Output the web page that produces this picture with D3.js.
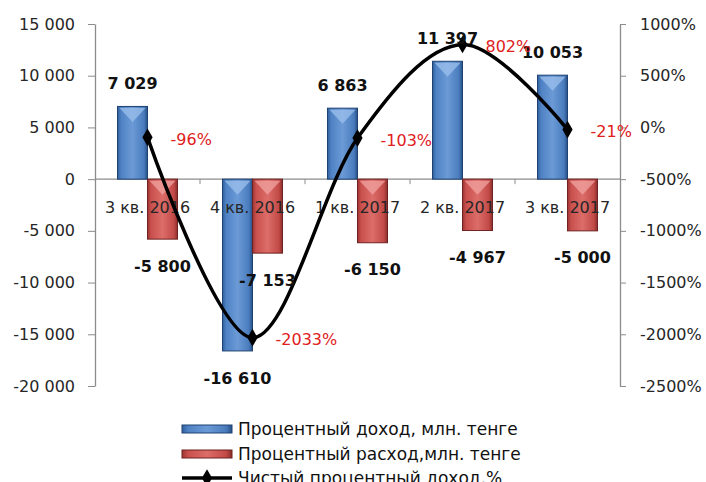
<!DOCTYPE html>
<html>
<head>
<meta charset="utf-8">
<script src="https://cdn.jsdelivr.net/npm/d3@7"></script>
<style>
	body { margin: 0; background: #fff; }
	text { font-family: "DejaVu Sans", sans-serif; }
</style>
</head>
<body>
<svg id="chart" width="706" height="482"></svg>
<script>
var categories = ['3 кв. 2016', '4 кв. 2016', '1 кв. 2017', '2 кв. 2017', '3 кв. 2017'];
var income = [7029, -16610, 6863, 11397, 10053];
var expense = [-5800, -7153, -6150, -4967, -5000];
var netPct = [-96, -2033, -103, 802, -21];
var leftTicks = [15000, 10000, 5000, 0, -5000, -10000, -15000, -20000];
var rightTicks = [1000, 500, 0, -500, -1000, -1500, -2000, -2500];
var seriesNames = ['Процентный доход, млн. тенге', 'Процентный расход,млн. тенге', 'Чистый процентный доход,%'];

var svg = d3.select('#chart');
var plotLeft = 95, plotRight = 620, plotTop = 24, plotBottom = 386;

var locale = d3.formatLocale({decimal: ',', thousands: ' ', grouping: [3], currency: ['', ''], minus: '-'});
var fmt = locale.format(',d');

var x = d3.scaleBand().domain(categories).range([plotLeft, plotRight]).paddingInner(0.4286).paddingOuter(0.2143);
var xs = d3.scaleBand().domain([0, 1]).range([0, x.bandwidth()]);
var y = d3.scaleLinear().domain([-20000, 15000]).range([plotBottom, plotTop]);
var y2 = d3.scaleLinear().domain([-2500, 1000]).range([plotBottom, plotTop]);

// gradients for the bevelled bars
var defs = svg.append('defs');
function grad(id, stops) {
	var g = defs.append('linearGradient').attr('id', id).attr('x1', '0').attr('x2', '1').attr('y1', '0').attr('y2', '0');
	stops.forEach(function(s) {
		g.append('stop').attr('offset', s[0]).attr('stop-color', s[1]);
	});
}
grad('blueGrad', [[0, '#2f5f9c'], [0.12, '#4f82c4'], [0.5, '#6b9ad6'], [0.88, '#4a7cbd'], [1, '#264f85']]);
grad('redGrad', [[0, '#9a3432'], [0.12, '#c9504d'], [0.5, '#dc6d69'], [0.88, '#c24a47'], [1, '#8a2d2b']]);

// left axis
var yAxis = svg.append('g')
	.attr('transform', 'translate(' + plotLeft + ',0)')
	.call(d3.axisLeft(y).tickValues(leftTicks).tickFormat(fmt).tickSize(7).tickSizeOuter(0).tickPadding(13));
yAxis.select('.domain').attr('stroke', '#8c8c8c').attr('stroke-width', 1.3);
yAxis.selectAll('.tick line').attr('stroke', '#8c8c8c');
yAxis.selectAll('text').attr('font-size', 16).attr('fill', '#262626');

// right axis
var y2Axis = svg.append('g')
	.attr('transform', 'translate(' + plotRight + ',0)')
	.call(d3.axisRight(y2).tickValues(rightTicks).tickFormat(function(d) { return d + '%'; }).tickSize(6).tickSizeOuter(0).tickPadding(14));
y2Axis.select('.domain').attr('stroke', '#8c8c8c').attr('stroke-width', 1.3);
y2Axis.selectAll('.tick line').attr('stroke', '#8c8c8c');
y2Axis.selectAll('text').attr('font-size', 16).attr('fill', '#262626');

// category axis on the zero line
svg.append('line')
	.attr('x1', plotLeft).attr('x2', plotRight)
	.attr('y1', y(0)).attr('y2', y(0))
	.attr('stroke', '#8c8c8c').attr('stroke-width', 1.3);
var bounds = categories.map(function(c) { return x(c) - (x.step() - x.bandwidth()) / 2; }).slice(1);
svg.selectAll('.cat-tick')
	.data(bounds)
	.enter()
	.append('line')
	.attr('x1', d => d).attr('x2', d => d)
	.attr('y1', y(0)).attr('y2', y(0) + 5)
	.attr('stroke', '#8c8c8c');

// bars
var bars = [];
categories.forEach(function(c, i) {
	bars.push({cat: c, s: 0, v: income[i]});
	bars.push({cat: c, s: 1, v: expense[i]});
});

var barG = svg.append('g');
barG.selectAll('rect')
	.data(bars)
	.enter()
	.append('rect')
	.attr('x', d => x(d.cat) + xs(d.s))
	.attr('width', xs.bandwidth())
	.attr('y', d => Math.min(y(d.v), y(0)))
	.attr('height', d => Math.abs(y(d.v) - y(0)))
	.attr('fill', d => d.s == 0 ? 'url(#blueGrad)' : 'url(#redGrad)')
	.attr('stroke', d => d.s == 0 ? '#1f4272' : '#6e2221')
	.attr('stroke-width', 1);

// chevron highlight at the top of each bar
barG.selectAll('path.chev')
	.data(bars)
	.enter()
	.append('path')
	.attr('class', 'chev')
	.attr('d', function(d) {
		var x0 = x(d.cat) + xs(d.s), x1 = x0 + xs.bandwidth();
		var t = Math.min(y(d.v), y(0)) + 1.5;
		var h = Math.min(14, Math.abs(y(d.v) - y(0)) / 3);
		return 'M' + (x0 + 2) + ',' + t + 'L' + (x1 - 2) + ',' + t + 'L' + ((x0 + x1) / 2) + ',' + (t + h) + 'Z';
	})
	.attr('fill', d => d.s == 0 ? '#9cc0ec' : '#f0a3a0')
	.attr('opacity', 0.75);

// category labels (drawn over the bars like the original)
svg.selectAll('.cat-label')
	.data(categories)
	.enter()
	.append('text')
	.attr('x', d => x(d) + x.bandwidth() / 2)
	.attr('y', y(0) + 34)
	.attr('text-anchor', 'middle')
	.attr('font-size', 16)
	.attr('fill', '#262626')
	.text(d => d);

// net interest income line
var pts = categories.map(function(c, i) { return {cat: c, v: netPct[i]}; });
var line = d3.line()
	.x(d => x(d.cat) + x.bandwidth() / 2)
	.y(d => y2(d.v))
	.curve(d3.curveCardinal.tension(0));
svg.append('path')
	.datum(pts)
	.attr('d', line)
	.attr('fill', 'none')
	.attr('stroke', '#000')
	.attr('stroke-width', 3.5);
svg.selectAll('.marker')
	.data(pts)
	.enter()
	.append('path')
	.attr('transform', d => 'translate(' + (x(d.cat) + x.bandwidth() / 2) + ',' + y2(d.v) + ')')
	.attr('d', d3.symbol().type(d3.symbolDiamond).size(90))
	.attr('fill', '#000');

// value labels
svg.selectAll('.bar-label')
	.data(bars)
	.enter()
	.append('text')
	.attr('x', d => x(d.cat) + xs(d.s) + xs.bandwidth() / 2)
	.attr('y', d => d.v >= 0 ? y(d.v) - 23 : y(d.v) + 27)
	.attr('dy', '0.35em')
	.attr('text-anchor', 'middle')
	.attr('font-size', 16)
	.attr('font-weight', 'bold')
	.attr('fill', '#111')
	.text(d => fmt(d.v));

svg.selectAll('.pct-label')
	.data(pts)
	.enter()
	.append('text')
	.attr('x', d => x(d.cat) + x.bandwidth() / 2 + 23)
	.attr('y', d => y2(d.v) + 2)
	.attr('dy', '0.35em')
	.attr('font-size', 16)
	.attr('fill', '#e0201c')
	.text(d => d.v + '%');

// legend
var legend = svg.append('g');
var rowY = [429, 454, 478];
legend.append('rect').attr('x', 182).attr('y', rowY[0] - 4).attr('width', 50).attr('height', 8)
	.attr('fill', 'url(#blueGrad)').attr('stroke', '#1f4272');
legend.append('rect').attr('x', 182).attr('y', rowY[1] - 4).attr('width', 50).attr('height', 8)
	.attr('fill', 'url(#redGrad)').attr('stroke', '#6e2221');
legend.append('line').attr('x1', 182).attr('x2', 232).attr('y1', rowY[2]).attr('y2', rowY[2])
	.attr('stroke', '#000').attr('stroke-width', 3.5);
legend.append('path').attr('transform', 'translate(207,' + rowY[2] + ')')
	.attr('d', d3.symbol().type(d3.symbolDiamond).size(90)).attr('fill', '#000');
legend.selectAll('text')
	.data(seriesNames)
	.enter()
	.append('text')
	.attr('x', 238)
	.attr('y', (d, i) => rowY[i])
	.attr('dy', '0.35em')
	.attr('font-size', 17)
	.attr('fill', '#111')
	.text(d => d);
</script>
</body>
</html>
